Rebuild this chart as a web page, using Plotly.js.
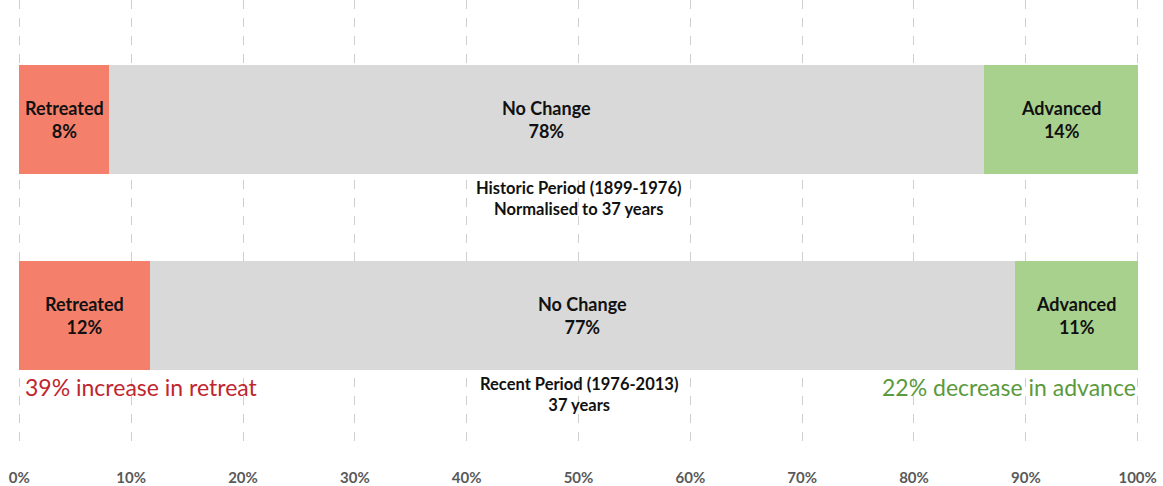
<!DOCTYPE html>
<html>
<head>
<meta charset="utf-8">
<script src="https://cdn.plot.ly/plotly-3.0.1.min.js"></script>
<style>html,body{margin:0;padding:0;background:#fff;}#chart{width:1163px;height:486px;}</style>
</head>
<body>
<div id="chart"></div>
<script>
// Data (percent of glaciers)
var periods = ["Recent", "Historic"];
var periodLabels = ["Recent Period (1976-2013)<br>37 years", "Historic Period (1899-1976)<br>Normalised to 37 years"];
var categories = ["Retreated", "No Change", "Advanced"];
var retreated = [11.7, 8.0];
var noChange = [77.3, 78.3];
var advanced = [11.0, 13.7];
var labelPct = { "Retreated": ["12%", "8%"], "No Change": ["77%", "78%"], "Advanced": ["11%", "14%"] };
var xTicks = [0, 10, 20, 30, 40, 50, 60, 70, 80, 90, 100];
var xTickLabels = ["0%", "10%", "20%", "30%", "40%", "50%", "60%", "70%", "80%", "90%", "100%"];
var noteRetreat = "39% increase in retreat";
var noteAdvance = "22% decrease in advance";

var colors = { "Retreated": "#f4806b", "No Change": "#d9d9d9", "Advanced": "#a9d18e" };
var seriesVals = { "Retreated": retreated, "No Change": noChange, "Advanced": advanced };

var traces = categories.map(function (c) {
  return {
    type: "bar", orientation: "h", name: c,
    y: [0, 1], x: seriesVals[c],
    marker: { color: colors[c], line: { width: 0 } },
    width: 0.556, hoverinfo: "none", textposition: "none"
  };
});

var annotations = [];
var font = "Lato, 'Open Sans', sans-serif";
for (var i = 0; i < periods.length; i++) {
  var start = 0;
  categories.forEach(function (c) {
    var v = seriesVals[c][i];
    annotations.push({
      x: start + v / 2, y: i, xref: "x", yref: "y",
      text: "<b>" + c + "<br>" + labelPct[c][i] + "</b>",
      showarrow: false, xanchor: "center", yanchor: "middle",
      font: { family: font, size: 18, color: "#111" }
    });
    start += v;
  });
  annotations.push({
    x: 50, y: i - 0.40, xref: "x", yref: "y",
    text: "<b>" + periodLabels[i].replace("<br>", "</b><br><b>") + "</b>",
    showarrow: false, xanchor: "center", yanchor: "middle",
    font: { family: font, size: 16.5, color: "#111" }
  });
}
annotations.push({
  x: 0, y: -0.36, xref: "x", yref: "y", xshift: 4,
  text: noteRetreat, showarrow: false, xanchor: "left", yanchor: "middle",
  font: { family: font, size: 23, color: "#c0262d" }
});
annotations.push({
  x: 100, y: -0.36, xref: "x", yref: "y",
  text: noteAdvance, showarrow: false, xanchor: "right", yanchor: "middle",
  font: { family: font, size: 23, color: "#5a9a3c" }
});

var layout = {
  width: 1163, height: 486,
  margin: { l: 18, r: 24, t: 0, b: 36 },
  paper_bgcolor: "#fff", plot_bgcolor: "#fff",
  barmode: "stack", bargap: 0, showlegend: false,
  xaxis: {
    range: [-0.12, 100.12], tickvals: xTicks, ticktext: xTickLabels,
    showgrid: true, gridcolor: "#cfcfcf", griddash: "dash", gridwidth: 1,
    zeroline: false, showline: false,
    ticks: "outside", ticklen: 14, tickcolor: "rgba(0,0,0,0)",
    tickfont: { family: font, size: 15, color: "#595959", weight: "bold" },
    fixedrange: true
  },
  yaxis: {
    range: [-0.684, 1.612], showticklabels: false, showgrid: false,
    zeroline: false, showline: false, ticks: "", fixedrange: true
  },
  annotations: annotations
};

Plotly.newPlot("chart", traces, layout, { displayModeBar: false, staticPlot: true });
</script>
</body>
</html>
